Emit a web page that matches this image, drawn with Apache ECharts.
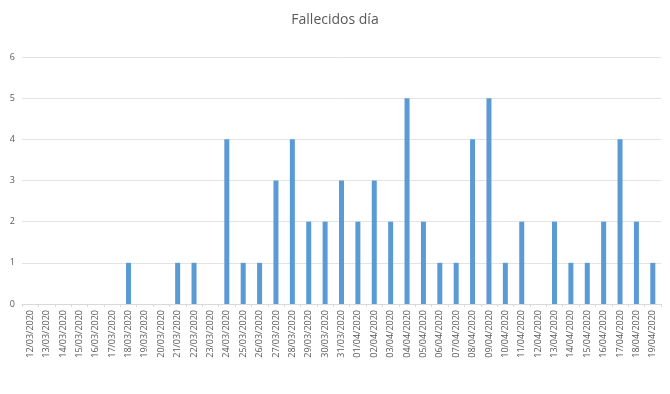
<!DOCTYPE html>
<html>
<head>
<meta charset="utf-8">
<script src="https://cdn.jsdelivr.net/npm/echarts@6/dist/echarts.min.js"></script>
<style>html,body{margin:0;padding:0;background:#fff}#c{width:670px;height:394px}</style>
</head>
<body>
<div id="c"></div>
<script>
const titleText = "Fallecidos día";
const categories = ["12/03/2020","13/03/2020","14/03/2020","15/03/2020","16/03/2020","17/03/2020","18/03/2020","19/03/2020","20/03/2020","21/03/2020","22/03/2020","23/03/2020","24/03/2020","25/03/2020","26/03/2020","27/03/2020","28/03/2020","29/03/2020","30/03/2020","31/03/2020","01/04/2020","02/04/2020","03/04/2020","04/04/2020","05/04/2020","06/04/2020","07/04/2020","08/04/2020","09/04/2020","10/04/2020","11/04/2020","12/04/2020","13/04/2020","14/04/2020","15/04/2020","16/04/2020","17/04/2020","18/04/2020","19/04/2020"];
const fallecidos = [0,0,0,0,0,0,1,0,0,1,1,0,4,1,1,3,4,2,2,3,2,3,2,5,2,1,1,4,5,1,2,0,2,1,1,2,4,2,1];
const yMin = 0, yMax = 6, yStep = 1;

const chart = echarts.init(document.getElementById('c'), null, {renderer:'canvas'});
chart.setOption({
  animation:false,
  backgroundColor:'#ffffff',
  title:{text:titleText,left:'center',top:8,textStyle:{fontFamily:'Open Sans',fontSize:14,fontWeight:'normal',color:'#595959'}},
  grid:{left:22,right:9,top:57,bottom:90,containLabel:false},
  xAxis:{type:'category',data:categories,
    axisLine:{lineStyle:{color:'#d9d9d9'}},
    axisTick:{show:true,length:3,lineStyle:{color:'#d9d9d9'}},
    axisLabel:{rotate:90,interval:0,fontFamily:'Open Sans',fontSize:9,color:'#595959',margin:6}},
  yAxis:{type:'value',min:yMin,max:yMax,interval:yStep,
    axisLine:{show:false},axisTick:{show:false},
    splitLine:{lineStyle:{color:'#e3e3e3'}},
    axisLabel:{fontFamily:'Open Sans',fontSize:9,color:'#595959',margin:7}},
  series:[{type:'bar',data:fallecidos,barWidth:5,itemStyle:{color:'#5b9bd5'}}]
});
</script>
</body>
</html>
